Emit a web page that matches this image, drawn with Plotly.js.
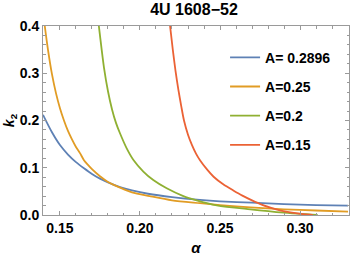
<!DOCTYPE html>
<html>
<head>
<meta charset="utf-8">
<script src="https://cdn.plot.ly/plotly-3.0.1.min.js"></script>
<style>html,body{margin:0;padding:0;background:#fff;}#chart{width:354px;height:257px;}</style>
</head>
<body>
<div id="chart"></div>
<script>
// A = 0.2896
const alphaA = [0.1394,0.145,0.150,0.155,0.160,0.165,0.170,0.175,0.180,0.1875,0.195,0.205,0.220,0.2375,0.250,0.270,0.290,0.310,0.330];
const k2A    = [0.212,0.175,0.148,0.128,0.112,0.099,0.087,0.077,0.069,0.059,0.052,0.045,0.038,0.032,0.029,0.026,0.023,0.021,0.020];
// A = 0.25
const alphaB = [0.1405,0.1425,0.1450,0.1475,0.150,0.1525,0.155,0.1575,0.160,0.1625,0.165,0.1675,0.170,0.175,0.180,0.1875,0.195,0.206,0.220,0.2375,0.250,0.269,0.290,0.310,0.330];
const k2B    = [0.400,0.350,0.298,0.258,0.226,0.200,0.178,0.160,0.144,0.131,0.116,0.106,0.097,0.082,0.070,0.058,0.048,0.040,0.031,0.025,0.021,0.016,0.012,0.0095,0.007];
// A = 0.2
const alphaC = [0.1743,0.1750,0.1775,0.1800,0.1825,0.1850,0.1875,0.1917,0.1958,0.2021,0.2083,0.2167,0.2271,0.2354,0.248,0.269,0.290,0.311];
const k2C    = [0.400,0.380,0.312,0.262,0.224,0.195,0.173,0.141,0.117,0.092,0.074,0.0565,0.040,0.031,0.0205,0.012,0.005,0.0];
// A = 0.15
const alphaD = [0.2188,0.2205,0.2222,0.2240,0.2258,0.2275,0.2300,0.2325,0.2350,0.2375,0.2420,0.2460,0.2520,0.2583,0.2640,0.2700,0.2760,0.2820,0.2880,0.2950,0.3020,0.3080];
const k2D    = [0.400,0.350,0.305,0.265,0.230,0.200,0.170,0.148,0.130,0.116,0.096,0.081,0.065,0.052,0.041,0.031,0.022,0.015,0.0095,0.005,0.0018,0.0];

const names = ['A= 0.2896','A=0.25','A=0.2','A=0.15'];
const colors = ['#5E81B5','#E19C24','#8FB032','#EB6235'];
const xs = [alphaA, alphaB, alphaC, alphaD];
const ys = [k2A, k2B, k2C, k2D];

const traces = xs.map((x,i)=>({
  x: x, y: ys[i], type:'scatter', mode:'lines', name: names[i],
  legendgroup: 'g'+i,
  line:{color:colors[i], width:1.8, shape:'spline', smoothing:0.8}
}));

const fam = 'Liberation Sans, Arial, sans-serif';
const tickFont = {family:fam, size:14, color:'#000', weight:'bold'};
const axisCommon = {
  showgrid:false, zeroline:false, showline:true, linecolor:'#9a9a9a', linewidth:1,
  mirror:'ticks', ticks:'inside', ticklen:4, tickcolor:'#9a9a9a', tickwidth:1,
  tickfont: tickFont
};

const layout = {
  width:354, height:257,
  margin:{l:43, r:5, t:26, b:42},
  paper_bgcolor:'#fff', plot_bgcolor:'#fff',
  title:{text:'4U 1608\u221252', x:0.548, xanchor:'center', y:0.965, yanchor:'middle',
         font:{family:fam, size:16, color:'#000', weight:'bold'}},
  xaxis: Object.assign({}, axisCommon, {
    range:[0.1394, 0.3306], tickvals:[0.15,0.20,0.25,0.30], ticktext:['0.15','0.20','0.25','0.30'],
    minor:{dtick:0.01, tick0:0, ticks:'inside', ticklen:2.5, tickcolor:'#9a9a9a'},
    title:{text:'<i>α</i>', standoff:7, font:{family:fam, size:15, color:'#000', weight:'bold'}}
  }),
  yaxis: Object.assign({}, axisCommon, {
    range:[0, 0.4], tickvals:[0,0.1,0.2,0.3,0.4], ticktext:['0.0','0.1','0.2','0.3','0.4'],
    minor:{dtick:0.02, tick0:0, ticks:'inside', ticklen:2.5, tickcolor:'#9a9a9a'},
    title:{text:'<i>k</i><sub>2</sub>', standoff:1, font:{family:fam, size:14, color:'#000', weight:'bold'}}
  }),
  showlegend:true,
  legend:{x:0.595, y:0.917, xanchor:'left', yanchor:'top', bgcolor:'rgba(0,0,0,0)',
          tracegroupgap:8, itemwidth:30,
          font:{family:fam, size:14, color:'#000', weight:'bold'}}
};

Plotly.newPlot('chart', traces, layout, {displayModeBar:false, staticPlot:true});
</script>
</body>
</html>
